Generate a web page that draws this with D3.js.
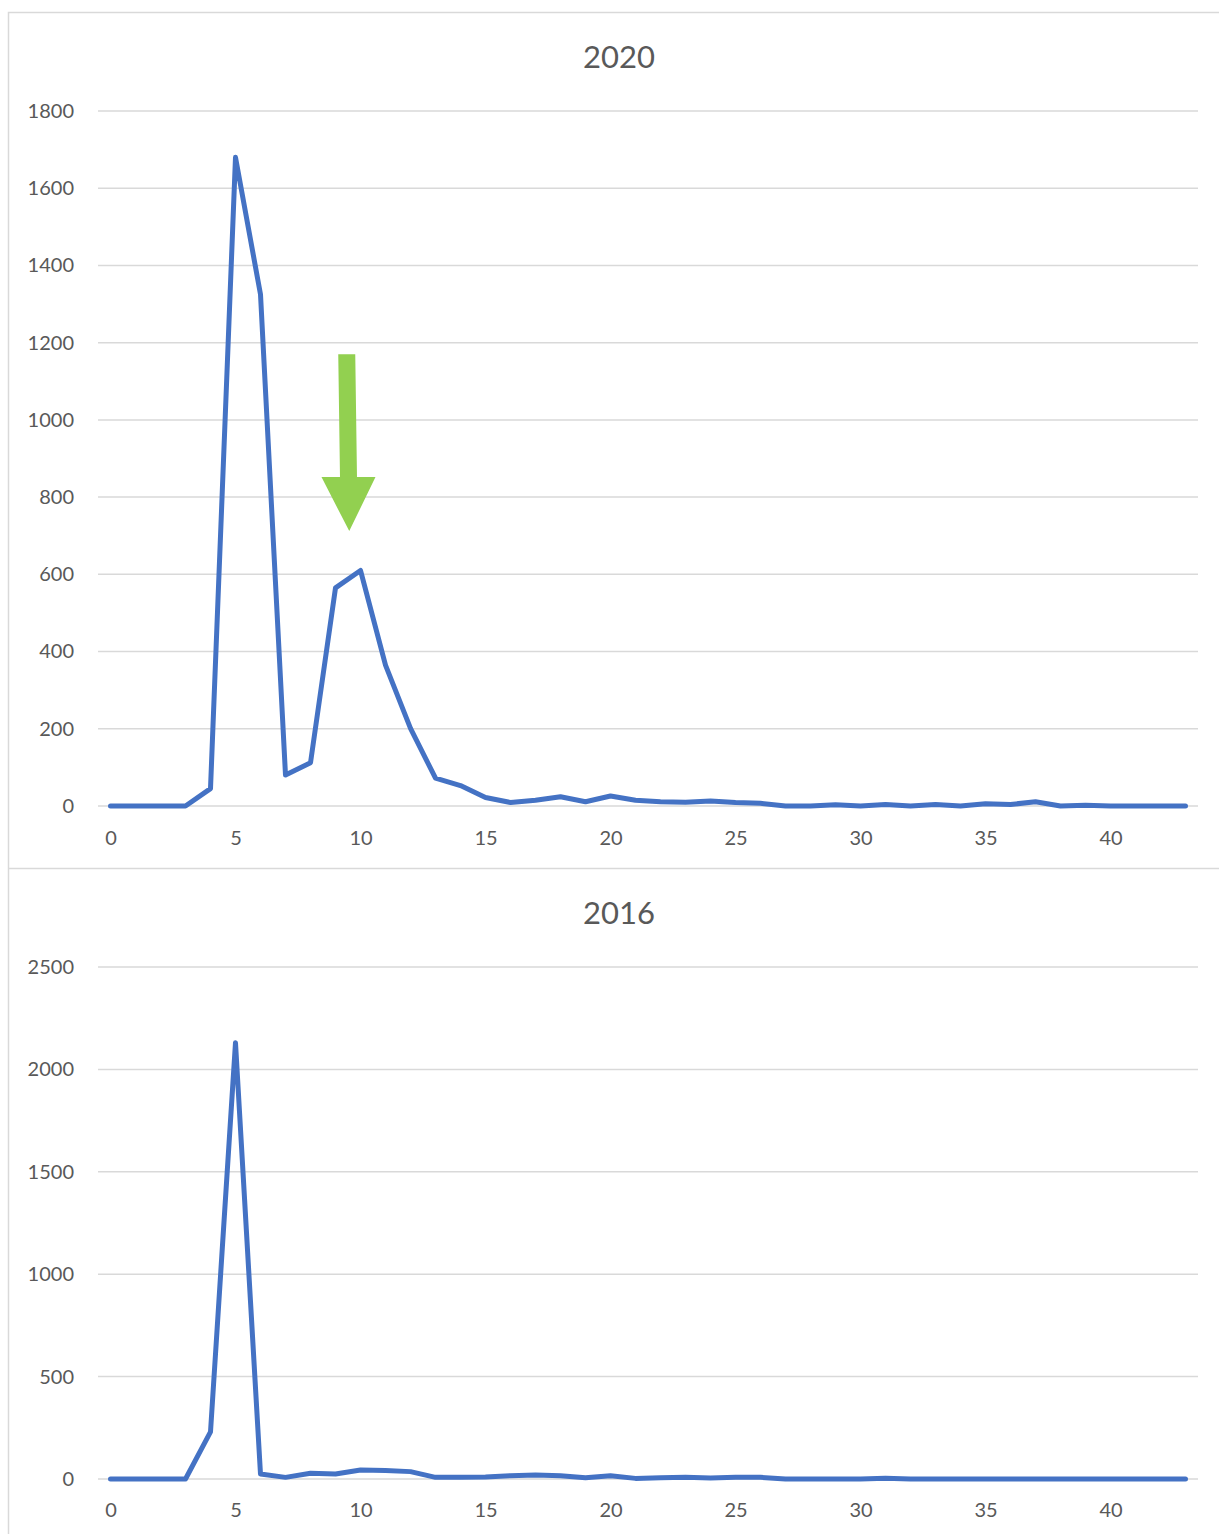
<!DOCTYPE html>
<html>
<head>
<meta charset="utf-8">
<script src="https://cdn.jsdelivr.net/npm/d3@7"></script>
<style>
  html, body { margin: 0; padding: 0; background: #fff; }
  svg { display: block; font-family: Lato, "Open Sans", sans-serif; }
</style>
</head>
<body>
<svg id="chart" width="1219" height="1534"></svg>
<script>
// Days 0..43
const days = d3.range(0, 44);

// Counts per day, 2020
const values2020 = [0, 0, 0, 0, 45, 1680, 1325, 80, 112, 565, 610, 365, 201, 72, 53, 22,
  9, 15, 24, 11, 26, 15, 11, 10, 13, 9, 7, 0, 0, 3, 0, 4, 0, 4, 0, 6, 4, 11, 0, 2, 0, 0, 0, 0];

// Counts per day, 2016
const values2016 = [0, 0, 0, 0, 230, 2130, 24, 8, 28, 24, 44, 41, 36, 8, 8, 10,
  16, 19, 16, 6, 16, 3, 6, 8, 5, 8, 8, 0, 0, 0, 0, 4, 0, 0, 0, 0, 0, 0, 0, 0, 0, 0, 0, 0];

const yTicks2020 = [0, 200, 400, 600, 800, 1000, 1200, 1400, 1600, 1800];
const yTicks2016 = [0, 500, 1000, 1500, 2000, 2500];
const xTickLabels = [0, 5, 10, 15, 20, 25, 30, 35, 40];

// Highlight arrow over the second 2020 peak (day, value)
const arrowTop = [9.45, 1170];
const arrowTip = [9.55, 712];
const arrowHeadBase = 852;

const svg = d3.select("#chart");
const gridColor = "#d9d9d9";
const textColor = "#595959";
const lineColor = "#4472C4";

// Chart frames
svg.append("rect")
  .attr("x", 8.5).attr("y", 12.5)
  .attr("width", 1230).attr("height", 1540)
  .attr("fill", "none").attr("stroke", gridColor).attr("stroke-width", 1.5);
svg.append("line")
  .attr("x1", 8.5).attr("x2", 1219).attr("y1", 868.5).attr("y2", 868.5)
  .attr("stroke", gridColor).attr("stroke-width", 1.5);

function drawPanel(opts) {
  const { title, titleY, values, ticks, yTop, yBottom, xLabelY } = opts;
  const g = svg.append("g");

  const x = d3.scalePoint().domain(days).range([98, 1198]).padding(0.5);
  const y = d3.scaleLinear().domain([0, d3.max(ticks)]).range([yBottom, yTop]);

  // Title
  g.append("text")
    .attr("x", 619).attr("y", titleY)
    .attr("text-anchor", "middle")
    .attr("font-size", 31)
    .attr("fill", textColor)
    .text(title);

  // Horizontal gridlines
  g.append("g").selectAll("line").data(ticks).join("line")
    .attr("x1", 98).attr("x2", 1198)
    .attr("y1", d => y(d)).attr("y2", d => y(d))
    .attr("stroke", gridColor).attr("stroke-width", 1.5);

  // Y-axis labels
  const yAxis = d3.axisLeft(y).tickValues(ticks).tickFormat(d3.format("d"))
    .tickSize(0).tickPadding(0);
  const ya = g.append("g").attr("transform", "translate(74,0)").call(yAxis);
  ya.select(".domain").remove();
  ya.selectAll("text")
    .attr("font-family", "Lato, 'Open Sans', sans-serif")
    .attr("font-size", 20).attr("fill", textColor);

  // X-axis labels
  const xAxis = d3.axisBottom(x).tickValues(xTickLabels).tickSize(0).tickPadding(0);
  const xa = g.append("g").attr("transform", `translate(0,${xLabelY})`).call(xAxis);
  xa.select(".domain").remove();
  xa.selectAll("text")
    .attr("font-family", "Lato, 'Open Sans', sans-serif")
    .attr("font-size", 20).attr("fill", textColor);

  // Series line
  const line = d3.line().x((d, i) => x(days[i])).y(d => y(d));
  g.append("path")
    .datum(values)
    .attr("d", line)
    .attr("fill", "none")
    .attr("stroke", lineColor)
    .attr("stroke-width", 5)
    .attr("stroke-linejoin", "round")
    .attr("stroke-linecap", "round");

  return { g, x, y };
}

const panel2020 = drawPanel({
  title: "2020", titleY: 68, values: values2020, ticks: yTicks2020,
  yTop: 111, yBottom: 806, xLabelY: 831
});

drawPanel({
  title: "2016", titleY: 924, values: values2016, ticks: yTicks2016,
  yTop: 967, yBottom: 1479, xLabelY: 1503
});

// Green arrow on the 2020 panel
{
  const { g, x, y } = panel2020;
  const step = x.step();
  const sx0 = x(9) + (arrowTop[0] - 9) * step;
  const tx = x(9) + (arrowTip[0] - 9) * step;
  const shaftHalf = 8.5, headHalf = 27;
  const yTopPx = y(arrowTop[1]), yBase = y(arrowHeadBase), yTip = y(arrowTip[1]);
  const baseCx = sx0 + (tx - sx0) * (yBase - yTopPx) / (yTip - yTopPx);
  const pts = [
    [sx0 - shaftHalf, yTopPx], [sx0 + shaftHalf, yTopPx],
    [baseCx + shaftHalf, yBase], [baseCx + headHalf, yBase],
    [tx, yTip],
    [baseCx - headHalf, yBase], [baseCx - shaftHalf, yBase]
  ];
  g.append("polygon")
    .attr("points", pts.map(p => p.join(",")).join(" "))
    .attr("fill", "#92D050");
}
</script>
</body>
</html>
